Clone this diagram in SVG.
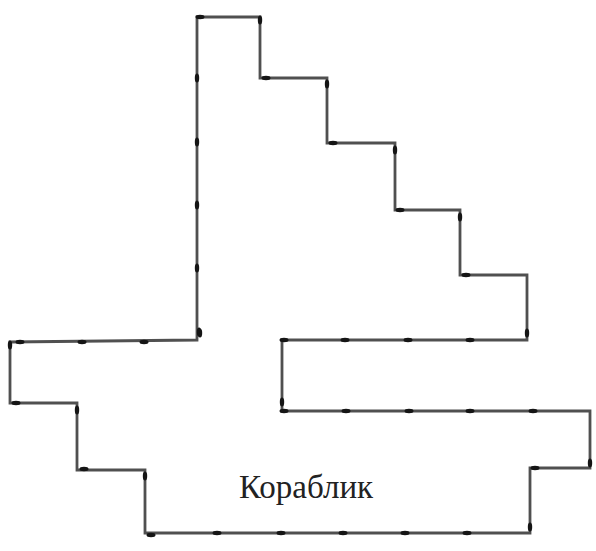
<svg xmlns="http://www.w3.org/2000/svg" width="596" height="551" viewBox="0 0 596 551">
<style>
.outline{fill:none;stroke:#505050;stroke-width:2.8;stroke-linejoin:miter}
.dh{fill:#151515}
.lbl{font-family:"Liberation Serif","Times New Roman",serif;font-size:33px;fill:#222}
</style>
<defs>
<ellipse id="h" rx="4.5" ry="2.2" class="dh"/>
<ellipse id="v" rx="2.2" ry="4.5" class="dh"/>
</defs>
<rect width="596" height="551" fill="#fff"/>
<g id="ship">
<path class="outline" d="M197,340 L197,17 L260,17 L260,78 L327,78 L327,143 L395,143 L395,210 L460,210 L460,275 L527,275 L527,340 L282,340 L282,411 L590,411 L590,468 L530,468 L530,533 L145,533 L145,470 L77,470 L77,403 L10,403 L10,342 Z"/>
<g id="ticks">
<use href="#h" x="200" y="17"/><use href="#v" x="260" y="20"/>
<use href="#v" x="197" y="78"/><use href="#v" x="197" y="142"/><use href="#v" x="197" y="205"/><use href="#v" x="197" y="268"/><use href="#v" x="199" y="332"/>
<use href="#h" x="266" y="78"/><use href="#v" x="327" y="84"/>
<use href="#h" x="333" y="143"/><use href="#v" x="395" y="150"/>
<use href="#h" x="400" y="210"/><use href="#v" x="460" y="217"/>
<use href="#h" x="466" y="275"/><use href="#v" x="527" y="333"/>
<use href="#h" x="470" y="340"/><use href="#h" x="408" y="340"/><use href="#h" x="345" y="340"/><use href="#h" x="284" y="340"/>
<use href="#v" x="282" y="402"/>
<use href="#h" x="284" y="411"/><use href="#h" x="346" y="411"/><use href="#h" x="409" y="411"/><use href="#h" x="470" y="411"/><use href="#h" x="533" y="411"/>
<use href="#v" x="590" y="463"/>
<use href="#h" x="535" y="468"/><use href="#v" x="530" y="527"/>
<use href="#h" x="467" y="533"/><use href="#h" x="405" y="533"/><use href="#h" x="343" y="533"/><use href="#h" x="281" y="533"/><use href="#h" x="217" y="533"/><use href="#h" x="151" y="535"/>
<use href="#v" x="145" y="476"/>
<use href="#h" x="84" y="469"/><use href="#v" x="77" y="410"/>
<use href="#h" x="16" y="403"/><use href="#v" x="10" y="345"/>
<use href="#h" x="20" y="342"/><use href="#h" x="82" y="342"/><use href="#h" x="144" y="342"/><use href="#v" x="200" y="333"/>
</g>
</g>
<text class="lbl" x="239" y="498">Кораблик</text>
</svg>
